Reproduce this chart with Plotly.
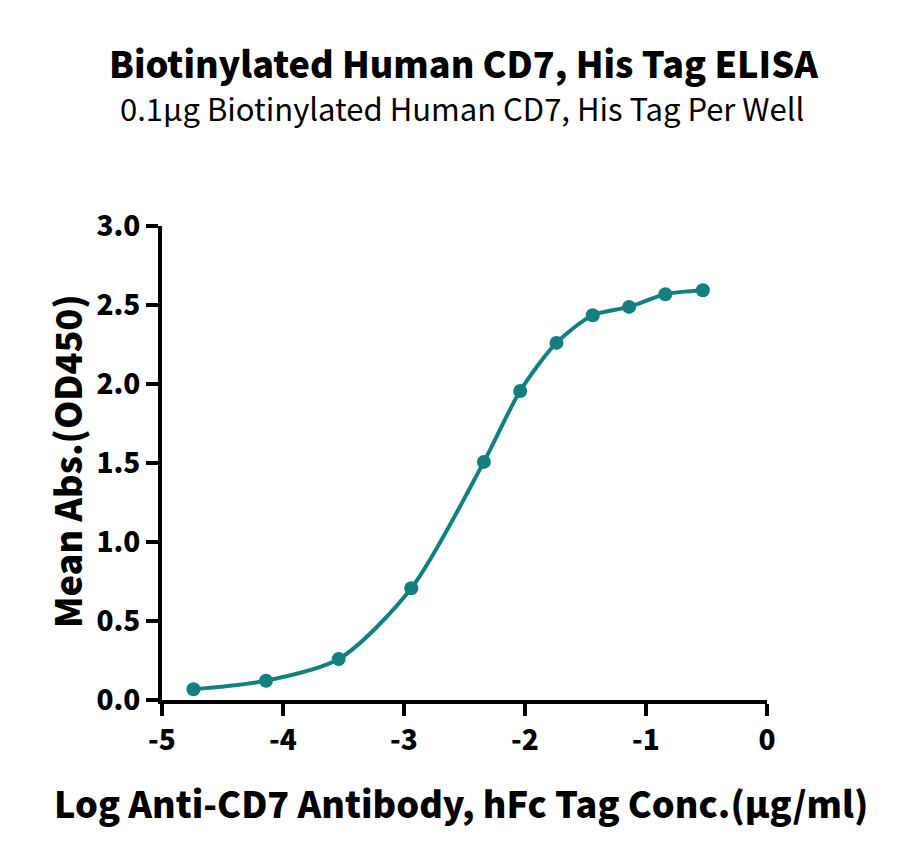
import plotly.graph_objects as go

log_conc = [-4.74, -4.14, -3.54, -2.94, -2.34, -2.04, -1.74, -1.44, -1.14, -0.84, -0.53]
mean_abs = [0.068, 0.122, 0.259, 0.707, 1.507, 1.956, 2.26, 2.435, 2.488, 2.568, 2.593]

x_ticks = [-5, -4, -3, -2, -1, 0]
y_ticks = [0.0, 0.5, 1.0, 1.5, 2.0, 2.5, 3.0]

teal = "#12807f"
font = "Noto Sans CJK SC"

# page offset of the plot div (body margin)
OFF = 8
W, H = 900 - OFF, 857 - OFF
L, T, R, B = 162 - OFF, 226 - OFF, 900 - 767, 857 - 700

fig = go.Figure()
fig.add_trace(go.Scatter(
    x=log_conc, y=mean_abs, mode="lines+markers",
    line=dict(color=teal, width=4, shape="spline", smoothing=0.8),
    marker=dict(color=teal, size=14),
    showlegend=False, cliponaxis=False,
))

axis_common = dict(
    showgrid=False, zeroline=False, showline=True, linecolor="black", linewidth=4,
    ticks="outside", ticklen=12, tickwidth=4, tickcolor="black",
    tickfont=dict(family=font, size=28, color="black", weight=900),
)

fig.update_layout(
    width=W, height=H,
    paper_bgcolor="white", plot_bgcolor="white",
    margin=dict(l=L, r=R, t=T, b=B),
    font=dict(family=font, color="black"),
    xaxis=dict(range=[-5, 0], tickvals=x_ticks, ticktext=[str(v) for v in x_ticks], **axis_common),
    yaxis=dict(range=[0, 3], tickvals=y_ticks, ticktext=[f"{v:.1f}" for v in y_ticks], **axis_common),
)

pw, ph = W - L - R, H - T - B


def px_to_paper(x, y):
    return (x - OFF - L) / pw, (H - B - (y - OFF)) / ph


annos = [
    ("Biotinylated Human CD7, His Tag ELISA", 464, 62, 36, 900, 0),
    ("0.1µg Biotinylated Human CD7, His Tag Per Well", 462, 108, 31, 400, 0),
    ("Log Anti-CD7 Antibody, hFc Tag Conc.(µg/ml)", 461, 802, 36, 900, 0),
    ("Mean Abs.(OD450)", 66, 461, 36, 900, -90),
]
for text, x, y, size, weight, ang in annos:
    ax, ay = px_to_paper(x, y)
    fig.add_annotation(text=text, x=ax, y=ay, xref="paper", yref="paper", showarrow=False,
                       xanchor="center", yanchor="middle", textangle=ang,
                       font=dict(family=font, size=size, color="black", weight=weight))

fig.write_html("out.html")
